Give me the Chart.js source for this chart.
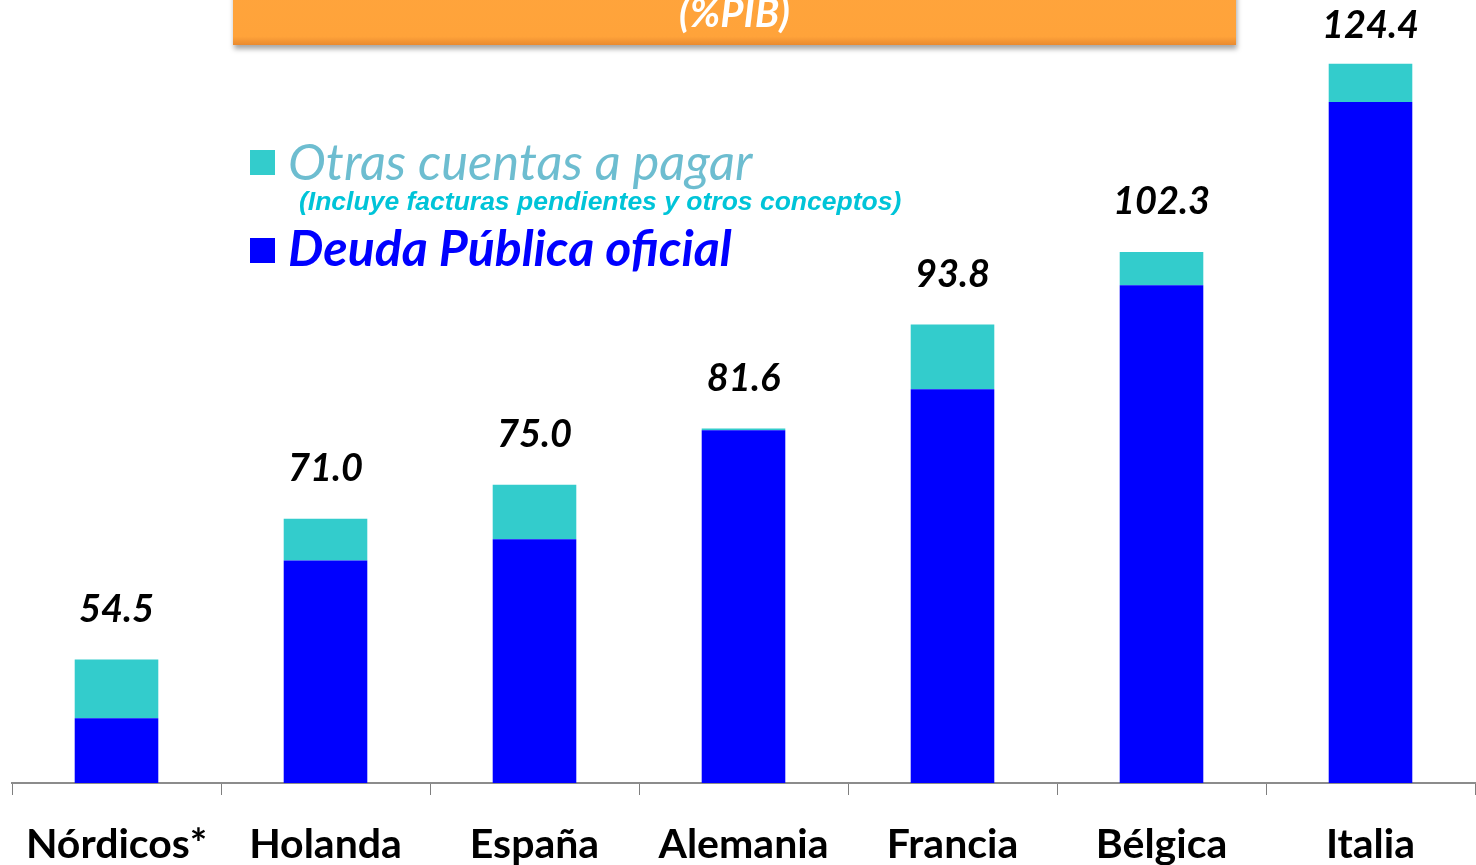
<!DOCTYPE html>
<html>
<head>
<meta charset="utf-8">
<script src="https://cdn.jsdelivr.net/npm/chart.js@4.4.1/dist/chart.umd.min.js"></script>
<style>
  html, body { margin: 0; padding: 0; background: #fff; }
  #wrap { position: relative; width: 1476px; height: 865px; overflow: hidden; }
  #titleBox {
    position: absolute; left: 233px; top: -12px; width: 1003px; height: 57px;
    background: linear-gradient(#FFA43C 0%, #FFA33A 85%, #E98A30 100%);
    box-shadow: 1px 4px 5px rgba(0,0,0,0.35);
    color: #fff; font: italic bold 40px Lato, "DejaVu Sans", sans-serif;
    text-align: center; line-height: 48px;
  }
  .leg { position: absolute; white-space: nowrap; }
  .sq { position: absolute; width: 25px; height: 25px; }
</style>
</head>
<body>
<div id="wrap">
  <canvas id="myChart" width="1476" height="865"></canvas>
  <div id="titleBox">(%PIB)</div>
  <div class="sq" style="left:250px;top:150px;background:#33CCCC"></div>
  <div class="leg" style="left:288px;top:130px;font:italic 50.8px Lato, sans-serif;color:#6DBDD0">Otras cuentas a pagar</div>
  <div class="leg" style="left:299px;top:186px;font:italic bold 26.5px 'Liberation Sans', Arial, sans-serif;color:#00C4D8">(Incluye facturas pendientes y otros conceptos)</div>
  <div class="sq" style="left:250px;top:238px;background:#0000FF"></div>
  <div class="leg" style="left:288px;top:217px;font:italic bold 50px Lato, sans-serif;color:#0000FF">Deuda Pública oficial</div>
</div>
<script>
// datos (%PIB)
const paises = ['Nórdicos*', 'Holanda', 'España', 'Alemania', 'Francia', 'Bélgica', 'Italia'];
const deudaOficial = [47.6, 66.1, 68.6, 81.4, 86.2, 98.4, 119.9];
const otrasCuentas = [6.9, 4.9, 6.4, 0.2, 7.6, 3.9, 4.5];
const totales = ['54.5', '71.0', '75.0', '81.6', '93.8', '102.3', '124.4'];

// etiquetas de total encima de cada barra
const totalLabels = {
  id: 'totalLabels',
  afterDatasetsDraw(chart) {
    const ctx = chart.ctx;
    const meta = chart.getDatasetMeta(1);
    ctx.save();
    ctx.font = 'italic bold 38px Lato, sans-serif';
    ctx.fillStyle = '#000';
    ctx.textAlign = 'center';
    ctx.textBaseline = 'middle';
    meta.data.forEach((bar, i) => {
      ctx.fillText(totales[i], bar.x, Math.max(bar.y - 50, 26));
    });
    ctx.restore();
  }
};

const ctx = document.getElementById('myChart').getContext('2d');
new Chart(ctx, {
  type: 'bar',
  data: {
    labels: paises,
    datasets: [
      {
        label: 'Deuda Pública oficial',
        data: deudaOficial,
        backgroundColor: '#0000FF',
        barPercentage: 0.4,
        categoryPercentage: 1
      },
      {
        label: 'Otras cuentas a pagar',
        data: otrasCuentas,
        backgroundColor: '#33CCCC',
        barPercentage: 0.4,
        categoryPercentage: 1
      }
    ]
  },
  options: {
    responsive: false,
    animation: false,
    layout: { padding: { left: 12, right: 1, top: 16, bottom: 0 } },
    plugins: {
      legend: { display: false },
      tooltip: { enabled: false }
    },
    scales: {
      x: {
        stacked: true,
        afterFit(scale) { scale.height = 82; },
        grid: {
          offset: true,
          drawOnChartArea: false,
          tickLength: 12,
          color: '#7f7f7f'
        },
        border: { color: '#8c8c8c', width: 2 },
        ticks: {
          padding: 25,
          color: '#000',
          font: { family: 'Lato', weight: 'bold', size: 41, lineHeight: 1.2 }
        }
      },
      y: {
        stacked: true,
        display: false,
        min: 40,
        max: 130
      }
    }
  },
  plugins: [totalLabels]
});
</script>
</body>
</html>
